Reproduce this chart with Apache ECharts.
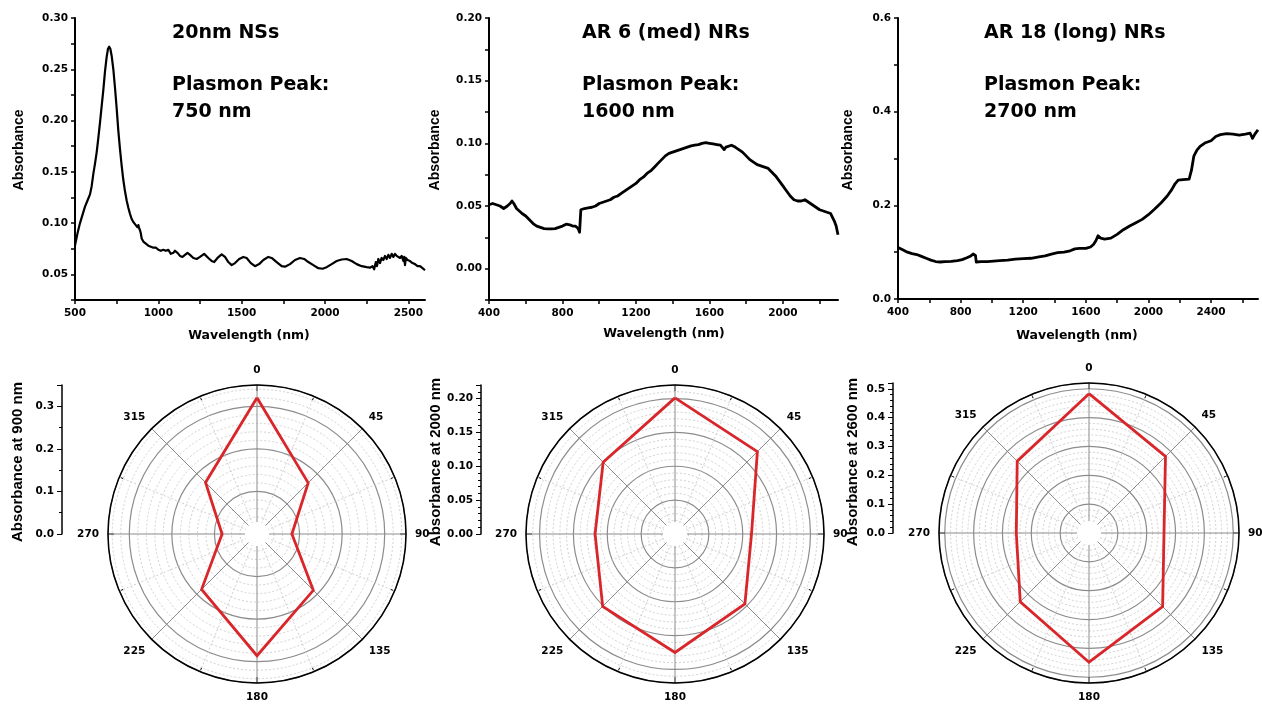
<!DOCTYPE html>
<html>
<head>
<meta charset="utf-8">
<title>Absorbance spectra and polarization response</title>
<script src="https://cdn.jsdelivr.net/npm/echarts@6/dist/echarts.min.js"></script>
<style>
  html, body { margin: 0; padding: 0; background: #fff; }
  #chart { width: 1262px; height: 704px; }
</style>
</head>
<body>
<div id="chart"></div>
<script>
// ---- Spectra (wavelength in nm, absorbance) ----
const nsWavelength = [500,515,530,545,560,575,590,600,610,620,630,640,650,660,670,680,690,698,705,712,720,730,740,750,760,770,780,790,800,810,820,830,840,850,860,870,875,880,885,890,895,900,910,925,940,955,970,985,1000,1015,1030,1045,1060,1075,1090,1100,1115,1130,1145,1160,1175,1190,1210,1230,1250,1275,1300,1320,1335,1355,1380,1400,1420,1440,1460,1485,1510,1530,1555,1580,1605,1630,1660,1680,1710,1740,1760,1790,1820,1850,1875,1900,1930,1960,1985,2010,2040,2070,2100,2130,2160,2190,2220,2250,2270,2285,2295,2305,2312,2320,2330,2340,2350,2360,2370,2380,2390,2400,2410,2420,2430,2440,2450,2460,2470,2475,2480,2485,2495,2510,2525,2540,2555,2570,2585,2600];
const nsAbsorbance = [0.078,0.090,0.100,0.108,0.116,0.122,0.128,0.136,0.148,0.158,0.169,0.183,0.198,0.214,0.230,0.248,0.262,0.270,0.272,0.270,0.263,0.250,0.232,0.212,0.190,0.172,0.156,0.142,0.131,0.122,0.115,0.109,0.104,0.101,0.099,0.098,0.096,0.098,0.095,0.093,0.090,0.085,0.082,0.080,0.078,0.077,0.076,0.076,0.074,0.073,0.074,0.073,0.074,0.070,0.071,0.073,0.071,0.068,0.067,0.069,0.071,0.069,0.066,0.065,0.067,0.070,0.066,0.063,0.062,0.066,0.0695,0.067,0.062,0.059,0.061,0.065,0.067,0.066,0.061,0.058,0.060,0.064,0.067,0.066,0.062,0.058,0.0575,0.060,0.064,0.066,0.065,0.062,0.059,0.056,0.0555,0.057,0.060,0.063,0.0645,0.065,0.063,0.060,0.058,0.057,0.0565,0.058,0.055,0.062,0.058,0.065,0.061,0.066,0.064,0.068,0.065,0.069,0.066,0.070,0.067,0.070,0.068,0.069,0.066,0.068,0.063,0.067,0.059,0.066,0.064,0.063,0.061,0.060,0.058,0.058,0.056,0.054];

const medWavelength = [400,420,440,460,480,500,515,525,535,550,565,580,600,620,640,660,680,700,720,740,760,780,800,820,840,855,870,885,893,898,900,905,920,940,960,980,1000,1020,1040,1060,1080,1100,1120,1140,1160,1180,1200,1220,1240,1260,1280,1300,1320,1340,1360,1380,1400,1420,1440,1460,1480,1500,1520,1540,1560,1580,1600,1620,1640,1660,1670,1680,1690,1700,1720,1740,1760,1780,1800,1820,1840,1860,1880,1900,1920,1940,1960,1980,2000,2020,2040,2060,2080,2100,2120,2130,2140,2160,2180,2200,2220,2240,2260,2270,2280,2290,2300];
const medAbsorbance = [0.051,0.052,0.051,0.050,0.048,0.050,0.052,0.054,0.052,0.048,0.046,0.044,0.042,0.039,0.036,0.034,0.033,0.032,0.0318,0.0318,0.032,0.033,0.034,0.0355,0.035,0.034,0.034,0.032,0.029,0.028,0.047,0.048,0.048,0.0485,0.049,0.050,0.052,0.053,0.054,0.055,0.057,0.058,0.060,0.062,0.064,0.066,0.068,0.071,0.073,0.076,0.078,0.081,0.084,0.087,0.090,0.092,0.093,0.094,0.095,0.096,0.097,0.098,0.0985,0.099,0.100,0.1005,0.100,0.0995,0.099,0.0985,0.097,0.095,0.097,0.0985,0.0985,0.097,0.095,0.093,0.090,0.087,0.085,0.083,0.082,0.081,0.080,0.077,0.074,0.070,0.066,0.062,0.058,0.055,0.054,0.054,0.055,0.054,0.053,0.051,0.049,0.047,0.046,0.045,0.044,0.041,0.038,0.034,0.027];

const longWavelength = [400,430,460,490,520,550,580,610,640,670,700,740,780,810,840,865,880,890,895,900,930,970,1010,1050,1100,1150,1200,1250,1300,1340,1380,1420,1460,1500,1530,1560,1600,1630,1650,1665,1678,1695,1720,1760,1800,1840,1880,1920,1960,2000,2040,2080,2120,2150,2170,2190,2220,2260,2275,2290,2310,2330,2360,2400,2430,2460,2500,2540,2580,2620,2650,2665,2680,2700];
const longAbsorbance = [0.110,0.105,0.100,0.097,0.095,0.091,0.087,0.083,0.080,0.079,0.080,0.0805,0.082,0.084,0.088,0.092,0.096,0.100,0.093,0.079,0.080,0.080,0.081,0.082,0.083,0.085,0.086,0.087,0.090,0.092,0.096,0.099,0.100,0.103,0.107,0.108,0.108,0.111,0.117,0.125,0.135,0.130,0.128,0.130,0.138,0.148,0.156,0.163,0.170,0.180,0.192,0.205,0.220,0.234,0.246,0.254,0.255,0.256,0.275,0.305,0.318,0.326,0.333,0.338,0.347,0.351,0.353,0.352,0.350,0.352,0.354,0.343,0.352,0.361];

// ---- Polarization dependence (polarizer angle in degrees) ----
const polarAngles = [0, 45, 90, 135, 180, 225, 270, 315, 360];
const abs900 = [0.320, 0.170, 0.082, 0.187, 0.286, 0.184, 0.082, 0.171, 0.320];
const abs2000 = [0.201, 0.172, 0.113, 0.146, 0.175, 0.151, 0.118, 0.150, 0.201];
const abs2600 = [0.483, 0.375, 0.260, 0.361, 0.448, 0.337, 0.252, 0.352, 0.483];

// ---- Text ----
const panelTitles = [
  ['20nm NSs', 'Plasmon Peak:', '750 nm'],
  ['AR 6 (med) NRs', 'Plasmon Peak:', '1600 nm'],
  ['AR 18 (long) NRs', 'Plasmon Peak:', '2700 nm']
];
const polarAxisNames = ['Absorbance at 900 nm', 'Absorbance at 2000 nm', 'Absorbance at 2600 nm'];

// ---- Layout ----
const TICK_FONT = 'DejaVu Sans';
const NAME_FONT = 'Liberation Sans';
const spectra = [
  { grid: { left: 75, top: 18, width: 350, height: 282 }, x: [500, 2600, 250, 500], y: [0.025, 0.30, 0.025, 0.05, 2], w: 2.2,
    data: [nsWavelength, nsAbsorbance], nameY: [19, 150], nameX: [249, 336] },
  { grid: { left: 489, top: 18, width: 349, height: 282 }, x: [400, 2300, 200, 400], y: [-0.025, 0.20, 0.025, 0.05, 2], w: 2.8,
    data: [medWavelength, medAbsorbance], nameY: [435, 150], nameX: [664, 334] },
  { grid: { left: 898, top: 18, width: 360, height: 281 }, x: [400, 2700, 200, 400], y: [0, 0.6, 0.1, 0.2, 1], w: 2.8,
    data: [longWavelength, longAbsorbance], nameY: [848, 150], nameX: [1077, 336] }
];
const titleX = [172, 582, 984];
const polars = [
  { center: [257, 534], r: 149, max: 0.35, step: 0.1, digits: 1, minor: 2, bar: 62, values: abs900, nameX: 18 },
  { center: [675, 534], r: 149, max: 0.22, step: 0.05, digits: 2, minor: 5, bar: 481, values: abs2000, nameX: 436 },
  { center: [1089, 533], r: 150, max: 0.52, step: 0.1, digits: 1, minor: 5, bar: 893, values: abs2600, nameX: 853 }
];

function isMultiple(v, step) {
  const q = v / step;
  return Math.abs(q - Math.round(q)) < 1e-6;
}

const grids = [], xAxes = [], yAxes = [], series = [], graphics = [];
const axisLineStyle = { color: '#000', width: 2 };
const tickLabel = { color: '#000', fontFamily: TICK_FONT, fontWeight: 'bold', fontSize: 10.5 };

spectra.forEach((p, i) => {
  grids.push(Object.assign({}, p.grid));
  xAxes.push({
    gridIndex: i, type: 'value', min: p.x[0], max: p.x[1], interval: p.x[2],
    axisLine: { show: true, onZero: false, lineStyle: axisLineStyle },
    axisTick: { show: true, length: 4, lineStyle: { color: '#000', width: 1.5 } },
    splitLine: { show: false },
    axisLabel: Object.assign({ margin: 8, showMaxLabel: false,
      formatter: v => (isMultiple(v, p.x[3]) && v < p.x[1]) ? String(Math.round(v)) : '' }, tickLabel)
  });
  yAxes.push({
    gridIndex: i, type: 'value', min: p.y[0], max: p.y[1], interval: p.y[2],
    axisLine: { show: true, onZero: false, lineStyle: axisLineStyle },
    axisTick: { show: true, length: 4, lineStyle: { color: '#000', width: 1.5 } },
    splitLine: { show: false },
    axisLabel: Object.assign({ margin: 7, showMinLabel: true, showMaxLabel: true,
      formatter: v => isMultiple(v, p.y[3]) ? Math.abs(v).toFixed(p.y[4]) : '' }, tickLabel)
  });
  const xs = p.data[0], ys = p.data[1];
  series.push({
    type: 'line', xAxisIndex: i, yAxisIndex: i, showSymbol: false, symbol: 'none',
    lineStyle: { color: '#000', width: p.w, join: 'round' },
    data: xs.map((x, k) => [x, ys[k]]), silent: true
  });
  // axis titles
  graphics.push({
    type: 'text', x: p.nameY[0], y: p.nameY[1], rotation: Math.PI / 2,
    style: { text: 'Absorbance', fill: '#000', font: 'bold 14px "' + NAME_FONT + '"', align: 'center', verticalAlign: 'middle' }
  });
  graphics.push({
    type: 'text', x: p.nameX[0], y: p.nameX[1],
    style: { text: 'Wavelength (nm)', fill: '#000', font: 'bold 12.5px "' + TICK_FONT + '"', align: 'center', verticalAlign: 'middle' }
  });
  // panel annotations
  const lines = panelTitles[i];
  [[lines[0], 33], [lines[1], 85], [lines[2], 112]].forEach(([t, yy]) => {
    graphics.push({
      type: 'text', x: titleX[i], y: yy,
      style: { text: t, fill: '#000', font: 'bold 19px "' + TICK_FONT + '"', align: 'left', verticalAlign: 'middle' }
    });
  });
});

const polarList = [], angleAxes = [], radiusAxes = [];
polars.forEach((p, i) => {
  polarList.push({ center: p.center, radius: p.r });
  angleAxes.push({
    polarIndex: i, type: 'value', min: 0, max: 360, interval: 45, startAngle: 90, clockwise: true,
    axisLine: { show: true, lineStyle: { color: '#000', width: 1.5 } },
    axisTick: { show: true, inside: true, length: 6, lineStyle: { color: '#000', width: 1 } },
    minorTick: { show: true, splitNumber: 2, length: 4, lineStyle: { color: '#000', width: 1 } },
    splitLine: { show: true, lineStyle: { color: '#8c8c8c', width: 1 } },
    minorSplitLine: { show: true, lineStyle: { color: '#cfcfcf', width: 1, type: [2, 2] } },
    axisLabel: Object.assign({ margin: 9, formatter: v => (v >= 360 ? '' : String(v)) }, tickLabel, { fontSize: 10.5 })
  });
  radiusAxes.push({
    polarIndex: i, type: 'value', min: 0, max: p.max, interval: p.step,
    axisLine: { show: false }, axisTick: { show: false }, axisLabel: { show: false },
    minorTick: { show: false, splitNumber: 5 },
    splitLine: { show: true, lineStyle: { color: '#8c8c8c', width: 1.2 } },
    minorSplitLine: { show: true, lineStyle: { color: '#d2d2d2', width: 1, type: [2, 2] } }
  });
  series.push({
    type: 'line', coordinateSystem: 'polar', polarIndex: i, showSymbol: false, symbol: 'none',
    lineStyle: { color: '#d8262b', width: 2.8, join: 'miter' }, z: 5, silent: true,
    data: polarAngles.map((a, k) => [p.values[k], a])
  });

  // radial scale shown as a vertical bar beside each polar plot
  const gi = grids.length;
  grids.push({ left: p.bar, top: p.center[1] - p.r, height: p.r, width: 10 });
  xAxes.push({ gridIndex: gi, type: 'value', show: false, min: 0, max: 1 });
  yAxes.push({
    gridIndex: gi, type: 'value', min: 0, max: p.max, interval: p.step,
    axisLine: { show: true, lineStyle: { color: '#000', width: 1.5 } },
    axisTick: { show: true, length: 5, lineStyle: { color: '#000', width: 1 } },
    minorTick: { show: true, splitNumber: p.minor, length: 3, lineStyle: { color: '#000', width: 1 } },
    splitLine: { show: false },
    axisLabel: Object.assign({ margin: 8, showMaxLabel: false, formatter: v => v.toFixed(p.digits) }, tickLabel, { fontSize: 10.5 })
  });
  graphics.push({
    type: 'text', x: p.nameX, y: 462, rotation: Math.PI / 2,
    style: { text: polarAxisNames[i], fill: '#000', font: 'bold 15px "' + NAME_FONT + '"', align: 'center', verticalAlign: 'middle' }
  });
  // open centre of the polar grid
  graphics.push({
    type: 'circle', z: 100, shape: { cx: p.center[0], cy: p.center[1], r: 12 },
    style: { fill: '#fff' }
  });
});

const chart = echarts.init(document.getElementById('chart'), null, { renderer: 'canvas' });
chart.setOption({
  backgroundColor: '#fff',
  animation: false,
  grid: grids,
  xAxis: xAxes,
  yAxis: yAxes,
  polar: polarList,
  angleAxis: angleAxes,
  radiusAxis: radiusAxes,
  series: series,
  graphic: { elements: graphics }
});
</script>
</body>
</html>
